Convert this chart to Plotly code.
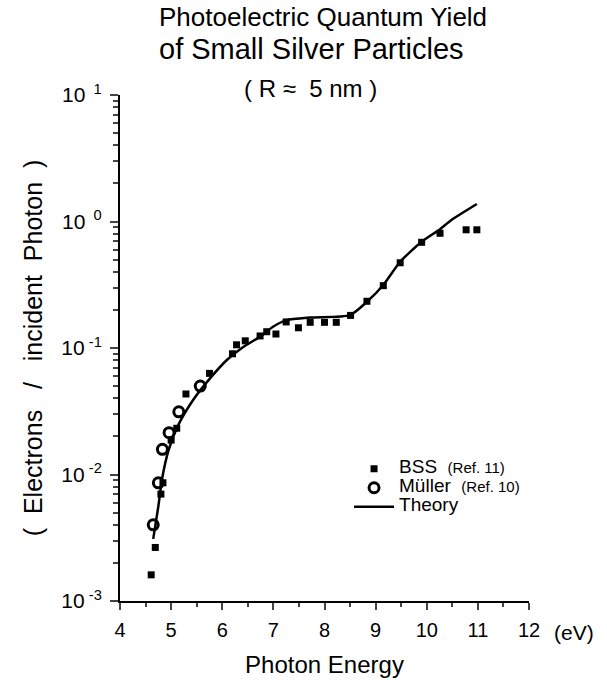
import plotly.graph_objects as go

# BSS (Ref. 11) data
bss_x = [4.61, 4.69, 4.80, 4.84, 5.00, 5.11, 5.29, 5.75, 6.20, 6.28, 6.45, 6.74, 6.87, 7.05,
         7.25, 7.49, 7.72, 8.00, 8.23, 8.51, 8.83, 9.15, 9.48, 9.90, 10.26, 10.77, 10.98]
bss_y = [0.00161, 0.00265, 0.0070, 0.0086, 0.0187, 0.0232, 0.0433, 0.063, 0.090, 0.106, 0.114,
         0.1245, 0.1345, 0.129, 0.1607, 0.1445, 0.1596, 0.1596, 0.1596, 0.181, 0.234, 0.311,
         0.472, 0.685, 0.807, 0.86, 0.86]

# Mueller (Ref. 10) data
mul_x = [4.65, 4.75, 4.83, 4.96, 5.15, 5.57]
mul_y = [0.0040, 0.0086, 0.0158, 0.0214, 0.0313, 0.050]

# Theory curve
th_x = [4.65, 4.75, 4.82, 4.95, 5.14, 5.43, 5.76, 6.09, 6.41, 6.74, 7.00, 7.26, 7.72,
        8.50, 8.83, 9.15, 9.48, 9.90, 10.26, 10.47, 10.98]
th_y = [0.0031, 0.0056, 0.0091, 0.0156, 0.0246, 0.0388, 0.0575, 0.0804, 0.102, 0.123,
        0.148, 0.166, 0.174, 0.182, 0.232, 0.315, 0.481, 0.692, 0.87, 1.02, 1.375]

y_tickvals = [1e-3, 1e-2, 1e-1, 1e0, 1e1]
y_ticktext = ["10<sup> -3</sup>", "10<sup> -2</sup>", "10<sup> -1</sup>", "10<sup>  0</sup>", "10<sup>  1</sup>"]
y_minor = [m * 10.0 ** e for e in range(-3, 1) for m in range(2, 10)]
x_tickvals = list(range(4, 13))
x_minor = [v + 0.5 for v in range(4, 12)]

FONT = "Liberation Sans, Arial, sans-serif"
W, H = 607, 687
ML, MR, MT, MB = 120, 78, 95, 86
PW, PH = W - ML - MR, H - MT - MB


def px_ann(text, px, py, size):
    """Annotation placed by pixel position (from top-left), converted to paper coords."""
    return dict(text=text, xref="paper", yref="paper",
                x=(px - ML) / PW, y=(H - MB - py) / PH,
                xanchor="center", yanchor="middle", showarrow=False,
                font=dict(size=size))


def big(s):
    return "<span style='font-size:19px'>" + s + "</span>"


fig = go.Figure()
fig.add_trace(go.Scatter(
    x=bss_x, y=bss_y, mode="markers",
    name=big("BSS&nbsp; ") + "<span style='font-size:15px'>(Ref. 11)</span>",
    marker=dict(symbol="square", size=7, color="black"),
))
fig.add_trace(go.Scatter(
    x=mul_x, y=mul_y, mode="markers",
    name=big("Müller&nbsp; ") + "<span style='font-size:15px'>(Ref. 10)</span>",
    marker=dict(symbol="circle-open", size=10, color="black", line=dict(width=3, color="black")),
))
fig.add_trace(go.Scatter(
    x=th_x, y=th_y, mode="lines", name=big("Theory"),
    line=dict(color="black", width=2.5, shape="spline", smoothing=0.6),
))

fig.update_layout(
    width=W, height=H,
    margin=dict(l=ML, r=MR, t=MT, b=MB),
    paper_bgcolor="white", plot_bgcolor="white",
    font=dict(family=FONT, color="black", size=18),
    showlegend=True,
    legend=dict(x=0.56, y=0.29, xanchor="left", yanchor="top", bgcolor="rgba(0,0,0,0)",
                font=dict(size=12), tracegroupgap=0, itemwidth=40),
    xaxis=dict(
        range=[4, 12], tickvals=x_tickvals, ticks="outside", ticklen=7, tickwidth=2,
        showline=True, linecolor="black", linewidth=2, showgrid=False, zeroline=False,
        tickfont=dict(size=20), ticklabelstandoff=3,
        minor=dict(tickvals=x_minor, ticks="outside", ticklen=4, tickwidth=2, showgrid=False),
        title=dict(text="Photon Energy", font=dict(size=24), standoff=16),
    ),
    yaxis=dict(
        type="log", range=[-3, 1], tickvals=y_tickvals, ticktext=y_ticktext,
        ticks="outside", ticklen=8, tickwidth=2, ticklabelstandoff=4,
        showline=True, linecolor="black", linewidth=2, showgrid=False, zeroline=False,
        tickfont=dict(size=21),
        minor=dict(tickvals=y_minor, ticks="outside", ticklen=5, tickwidth=1.5, showgrid=False),
        title=dict(text="(&nbsp; Electrons &nbsp;&nbsp;/&nbsp;&nbsp; incident&nbsp; Photon&nbsp; )",
                   font=dict(size=25), standoff=12),
    ),
    annotations=[
        px_ann("Photoelectric Quantum Yield", 323, 17, 26),
        px_ann("of Small Silver Particles", 311, 49, 29),
        px_ann("( R ≈ &nbsp;5 nm )", 310, 88, 24),
        px_ann("(eV)", 574, 632, 21),
    ],
)

fig.write_html("out.html", config={"displayModeBar": False},
               post_script="document.body.style.margin='0';")
